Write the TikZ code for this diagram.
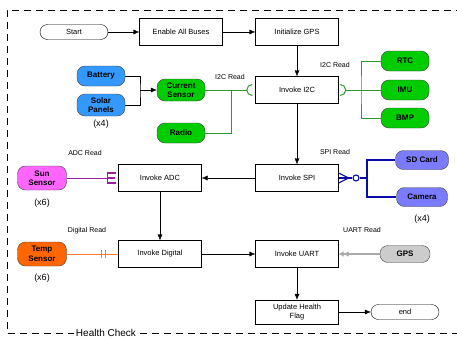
\documentclass[tikz,border=0pt]{standalone}
\usepackage{fontspec}
\setmainfont{Liberation Sans}
\usetikzlibrary{arrows.meta}
\usetikzlibrary{calc}

\definecolor{pwrblue}{HTML}{3399FF}
\definecolor{busgreen}{HTML}{00CC00}
\definecolor{wiregreen}{HTML}{2A9A2A}
\definecolor{sunpink}{HTML}{FF66FF}
\definecolor{wirepurple}{HTML}{A01CA0}
\definecolor{temporange}{HTML}{FF6600}
\definecolor{wireorange}{HTML}{FF7A2A}
\definecolor{spiviolet}{HTML}{7B7BFF}
\definecolor{wireblue}{HTML}{0A0AAA}
\definecolor{gpsgray}{HTML}{CCCCCC}
\definecolor{wiregray}{HTML}{AAAAAA}

\begin{document}
\begin{tikzpicture}[x=1pt,y=-1pt,
	stepbox/.style={draw, fill=white, minimum width=83pt, minimum height=27pt, inner sep=1pt, font=\fontsize{7.5}{9}\selectfont, align=center},
	term/.style={draw, rounded corners=7.5pt, minimum width=68pt, minimum height=15pt, inner sep=0pt, font=\fontsize{7.5}{9}\selectfont},
	part/.style={draw=black!75, rounded corners=8pt, minimum width=48pt, minimum height=20pt, inner sep=1pt, font=\bfseries\fontsize{8}{9.5}\selectfont, align=center},
	busnote/.style={font=\fontsize{7}{8}\selectfont},
	count/.style={font=\fontsize{9}{10}\selectfont},
	flow/.style={-{Latex[length=6pt,width=5pt]}},
	i2cwire/.style={wiregreen, line width=1pt},
	spiwire/.style={wireblue, line width=1.1pt},
]
\useasboundingbox (0,0) rectangle (457,338);
% frame
\draw[dash pattern=on 7pt off 5pt, line width=0.7pt] (463,10) -- (7,10) -- (7,333) -- (463,333);
\node[fill=white, inner sep=2pt, font=\fontsize{10}{11}\selectfont] (frame) at (106,333) {Health Check};

% main flow
\node[term] (start) at (74,32) {Start};
\node[stepbox] (enable) at (181,32) {Enable All Buses};
\node[stepbox] (initgps) at (297,32) {Initialize GPS};
\node[stepbox] (i2c) at (297,90) {Invoke I2C};
\node[stepbox] (spi) at (297,178) {Invoke SPI};
\node[stepbox] (adc) at (160,178) {Invoke ADC};
\node[stepbox] (digital) at (160,254) {Invoke Digital};
\node[stepbox] (uart) at (297,254) {Invoke UART};
\node[stepbox, minimum height=24pt] (health) at (297,312) {Update Health\\Flag};
\node[term] (end) at (405,312) {end};

% devices
\node[part, fill=pwrblue] (battery) at (101,76) {Battery};
\node[part, fill=pwrblue, minimum height=22pt] (solar) at (101,105) {Solar\\Panels};
\node[count] (solarn) at (101,124) {(x4)};
\node[part, fill=busgreen, minimum height=22pt] (current) at (181,90) {Current\\Sensor};
\node[part, fill=busgreen] (radio) at (181,133) {Radio};
\node[part, fill=busgreen] (rtc) at (405,61) {RTC};
\node[part, fill=busgreen] (imu) at (405,90) {IMU};
\node[part, fill=busgreen] (bmp) at (405,118) {BMP};
\node[part, fill=sunpink, minimum width=49pt, minimum height=24pt] (sun) at (42,178) {Sun\\Sensor};
\node[count] (sunn) at (42,203) {(x6)};
\node[part, fill=temporange, minimum width=49pt, minimum height=24pt] (temp) at (42,254) {Temp\\Sensor};
\node[count] (tempn) at (42,278) {(x6)};
\node[part, fill=spiviolet, minimum width=53pt, minimum height=19pt] (sdcard) at (422,160) {SD Card};
\node[part, fill=spiviolet, minimum width=51pt, minimum height=19pt] (camera) at (422,197) {Camera};
\node[count] (cameran) at (422,219) {(x4)};
\node[part, fill=gpsgray, minimum width=50pt, minimum height=17pt] (gpsdev) at (405,254) {GPS};

% bus labels
\node[busnote] (i2cinrd) at (230,77) {I2C Read};
\node[busnote] (i2coutrd) at (335,65) {I2C Read};
\node[busnote] (adcrd) at (85,153) {ADC Read};
\node[busnote] (spird) at (335,152) {SPI Read};
\node[busnote] (digrd) at (87,231) {Digital Read};
\node[busnote] (uartrd) at (362,230) {UART Read};

\draw[flow] (start) -- (enable);
\draw[flow] (enable) -- (initgps);
\draw[flow] (initgps) -- (i2c);
\draw[flow] (i2c) -- (spi);
\draw[flow] (spi) -- (adc);
\draw[flow] (adc) -- (digital);
\draw[flow] (digital) -- (uart);
\draw[flow] (uart) -- (health);
\draw[flow] (health) -- (end);

% power
\coordinate (pwrjoin) at (140,90);
\draw (battery.east) -| (pwrjoin) |- (solar.east);
\draw[flow] (pwrjoin) -- (current);

% i2c
\coordinate (i2csockl) at ($(i2c.west)+(-3,0)$);
\coordinate (i2csockr) at ($(i2c.east)+(1.5,0)$);
\coordinate (radiojoin) at (231,90);
\coordinate (i2cbus) at (361,90);
\draw[i2cwire] (current.east) -- ($(i2csockl)+(-5,0)$);
\draw[i2cwire] (radio.east) -| (radiojoin);
\draw[i2cwire] ($(i2csockl)+(0,5.5)$) arc[start angle=90, end angle=270, radius=5.5];
\draw[i2cwire] ($(i2csockr)+(0,5.5)$) arc[start angle=90, end angle=-90, radius=5.5];
\draw[i2cwire] ($(i2csockr)+(5.5,0)$) -- (i2cbus);
\draw[i2cwire] (rtc.west) -| (i2cbus) |- (bmp.west);
\draw[i2cwire] (i2cbus) -- (imu.west);

% spi
\coordinate (spifoot) at ($(spi.east)+(10,0)$);
\coordinate (spibus) at (367,178);
\node[draw=wireblue, line width=1.1pt, circle, fill=white, inner sep=0pt, minimum size=6pt] (spiring) at (356,178) {};
\draw[spiwire] ($(spi.east)+(0,-5)$) -- (spifoot) -- ($(spi.east)+(0,5)$);
\draw[spiwire] (spi.east) -- (spifoot) -- (spiring);
\draw[spiwire] (spiring) -- (spibus);
\draw[spiwire] (sdcard.west) -| (spibus) |- (camera.west);

% adc
\coordinate (adcfoot) at ($(adc.west)+(-11,0)$);
\draw[wirepurple, line width=1pt] (sun.east) -- (adcfoot);
\draw[wirepurple, line width=1.2pt] ($(adcfoot)+(9,-5)$) -- ++(-9,0) -- ++(0,10) -- ++(9,0);
\draw[wirepurple, line width=1.2pt] (adcfoot) -- ++(8,0);

% digital
\draw[wireorange, line width=1pt] (temp.east) -- (digital.west);
\draw[wireorange, line width=1.2pt] ($(digital.west)+(-17,-4)$) -- ++(0,8);
\draw[wireorange, line width=1.2pt] ($(digital.west)+(-13,-4)$) -- ++(0,8);

% uart
\draw[wiregray, line width=1.3pt, -{Latex[length=5pt,width=6pt] Latex[length=5pt,width=6pt]}] (gpsdev) -- (uart);
\end{tikzpicture}
\end{document}
